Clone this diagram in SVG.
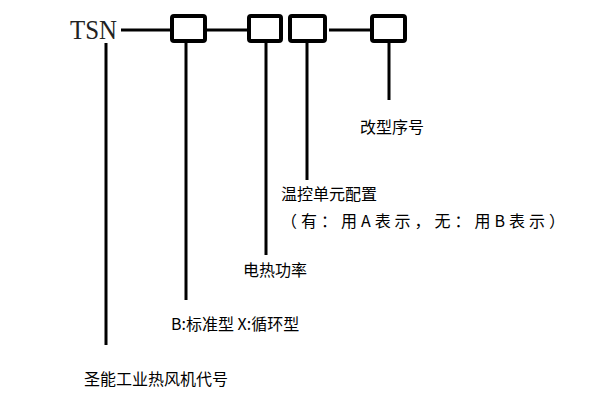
<svg xmlns="http://www.w3.org/2000/svg" width="600" height="401" viewBox="0 0 600 401">
<style>
.b{fill:#fff;stroke:#000;stroke-width:4}
.l{stroke:#000;stroke-width:3;fill:none}
.t{font-family:"Noto Sans CJK SC","Liberation Sans",sans-serif;font-size:16px;fill:#000}
</style>
<rect width="600" height="401" fill="#fff"/>
<text x="70" y="39" font-family="Liberation Serif,serif" font-size="27" fill="#222" textLength="47" lengthAdjust="spacingAndGlyphs">TSN</text>
<g id="connectors">
<path class="l" d="M121 30H172M205 30H247M329 30H370"/>
<path class="l" d="M106 43V345M186 43V300M266 43V255M307 43V180M389 43V100"/>
</g>
<g id="b1"><rect class="b" x="172" y="16" width="33" height="25" rx="2"/></g>
<g id="b2"><rect class="b" x="249" y="16" width="32" height="25" rx="2"/></g>
<g id="b3"><rect class="b" x="290" y="16" width="35" height="25" rx="2"/></g>
<g id="b4"><rect class="b" x="372" y="16" width="33" height="25" rx="2"/></g>
<text class="t" x="360" y="133">改型序号</text>
<text class="t" x="281" y="200">温控单元配置</text>
<text class="t" x="281" y="227" textLength="284" lengthAdjust="spacing">（有：用A表示，无：用B表示）</text>
<text class="t" x="243" y="276">电热功率</text>
<text class="t" x="171" y="330">B:标准型 X:循环型</text>
<text class="t" x="84" y="385">圣能工业热风机代号</text>
</svg>
